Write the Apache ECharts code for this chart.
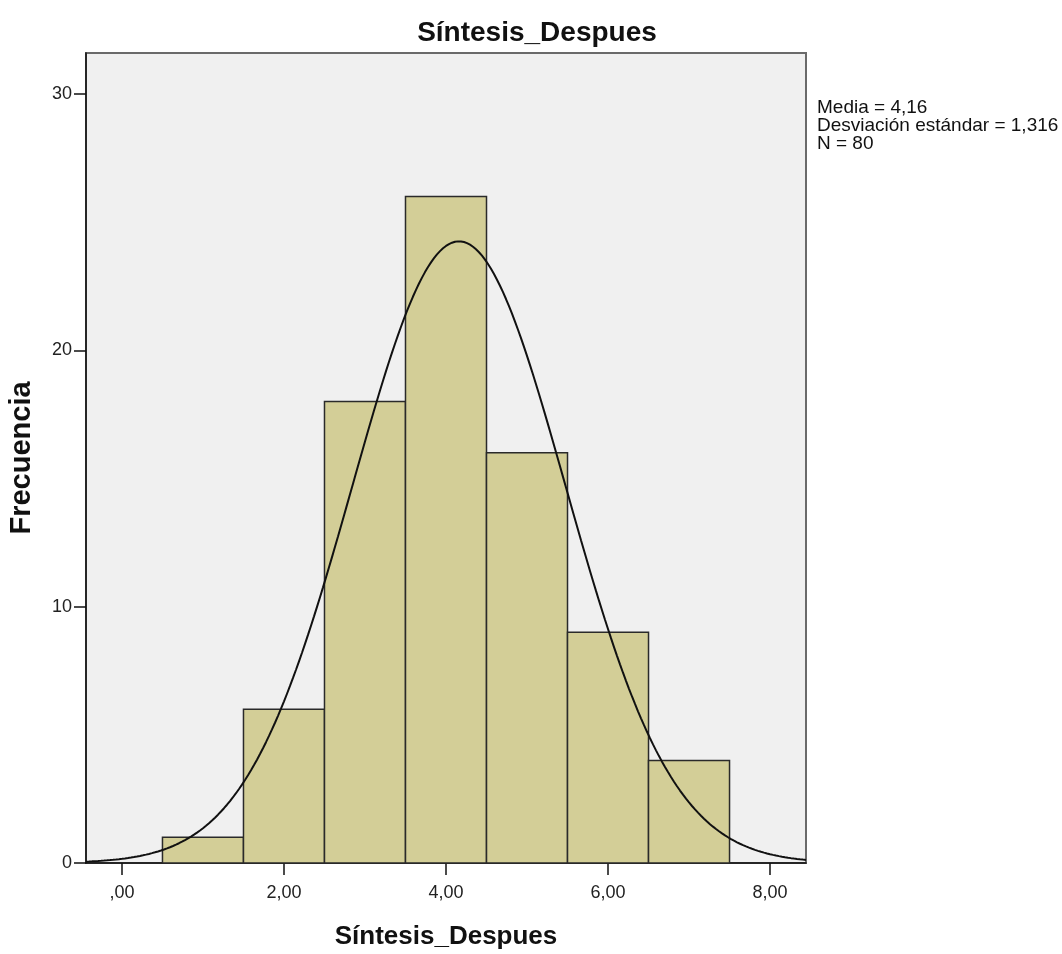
<!DOCTYPE html>
<html>
<head>
<meta charset="utf-8">
<script src="https://cdn.jsdelivr.net/npm/echarts@6/dist/echarts.min.js"></script>
<style>
  html, body { margin: 0; padding: 0; background: #fff; }
  #chart { width: 1062px; height: 954px; }
</style>
</head>
<body>
<div id="chart"></div>
<script>
// Histogram bins (lower edge, upper edge) and frequencies
const binStarts = [0.5, 1.5, 2.5, 3.5, 4.5, 5.5, 6.5];
const binWidth = 1;
const frequencies = [1, 6, 18, 26, 16, 9, 4];

// Summary statistics shown beside the plot
const media = 4.16;
const desviacion = 1.316;
const n = 80;

// Axis tick values and labels
const xTicks = [0, 2, 4, 6, 8];
const xTickLabels = [',00', '2,00', '4,00', '6,00', '8,00'];
const yTicks = [0, 10, 20, 30];

const xMin = -0.444, xMax = 8.444;
const yMax = 31.6;

// Fitted normal curve scaled to the histogram counts
const curve = [];
const steps = 240;
for (let i = 0; i <= steps; i++) {
  const x = xMin + (xMax - xMin) * i / steps;
  const z = (x - media) / desviacion;
  const y = n * binWidth / (desviacion * Math.sqrt(2 * Math.PI)) * Math.exp(-0.5 * z * z);
  curve.push([x, y]);
}

const barData = binStarts.map((s, i) => [s, s + binWidth, frequencies[i]]);

const chart = echarts.init(document.getElementById('chart'), null, { renderer: 'canvas' });
const font = '"Liberation Sans", Arial, sans-serif';

chart.setOption({
  animation: false,
  title: {
    text: 'Síntesis_Despues',
    left: 532, top: 14, textAlign: 'center',
    textStyle: { fontFamily: font, fontSize: 28, fontWeight: 'bold', color: '#111' }
  },
  grid: {
    left: 86, right: 256, top: 53, bottom: 91,
    outerBoundsMode: 'none', containLabel: false,
    show: true, backgroundColor: '#F0F0F0',
    borderColor: '#6a6a6a', borderWidth: 2
  },
  xAxis: {
    type: 'value', min: xMin, max: xMax,
    name: 'Síntesis_Despues', nameLocation: 'middle', nameGap: 61,
    nameTextStyle: { fontFamily: font, fontSize: 26, fontWeight: 'bold', color: '#111' },
    axisLine: { show: true, onZero: false, lineStyle: { color: '#111', width: 1.5 } },
    axisTick: { show: true, customValues: xTicks, length: 12, lineStyle: { color: '#111', width: 1.5 } },
    axisLabel: {
      customValues: xTicks,
      formatter: v => xTickLabels[xTicks.indexOf(v)],
      fontFamily: font, fontSize: 18, color: '#222', margin: 21
    },
    splitLine: { show: false }
  },
  yAxis: {
    type: 'value', min: 0, max: yMax,
    name: 'Frecuencia', nameLocation: 'middle', nameGap: 50,
    nameTextStyle: { fontFamily: font, fontSize: 29, fontWeight: 'bold', color: '#111' },
    axisLine: { show: true, onZero: false, lineStyle: { color: '#111', width: 1.5 } },
    axisTick: { show: true, customValues: yTicks, length: 12, lineStyle: { color: '#111', width: 1.5 } },
    axisLabel: {
      customValues: yTicks,
      fontFamily: font, fontSize: 18, color: '#222', margin: 14
    },
    splitLine: { show: false }
  },
  graphic: [{
    type: 'text', left: 817, top: 98,
    style: {
      text: 'Media = 4,16\nDesviación estándar = 1,316\nN = 80',
      fontFamily: font, fontSize: 19, lineHeight: 18, fill: '#111'
    }
  }],
  series: [
    {
      type: 'custom',
      data: barData,
      encode: { x: [0, 1], y: 2 },
      renderItem: (params, api) => {
        const p0 = api.coord([api.value(0), api.value(2)]);
        const p1 = api.coord([api.value(1), 0]);
        return {
          type: 'rect',
          shape: { x: p0[0], y: p0[1], width: p1[0] - p0[0], height: p1[1] - p0[1] },
          style: { fill: '#D3CE97', stroke: '#2a2a2a', lineWidth: 1.5 }
        };
      },
      z: 2
    },
    {
      type: 'line', data: curve, showSymbol: false, smooth: false,
      lineStyle: { color: '#111', width: 2 }, z: 3, clip: true
    }
  ]
});
</script>
</body>
</html>
